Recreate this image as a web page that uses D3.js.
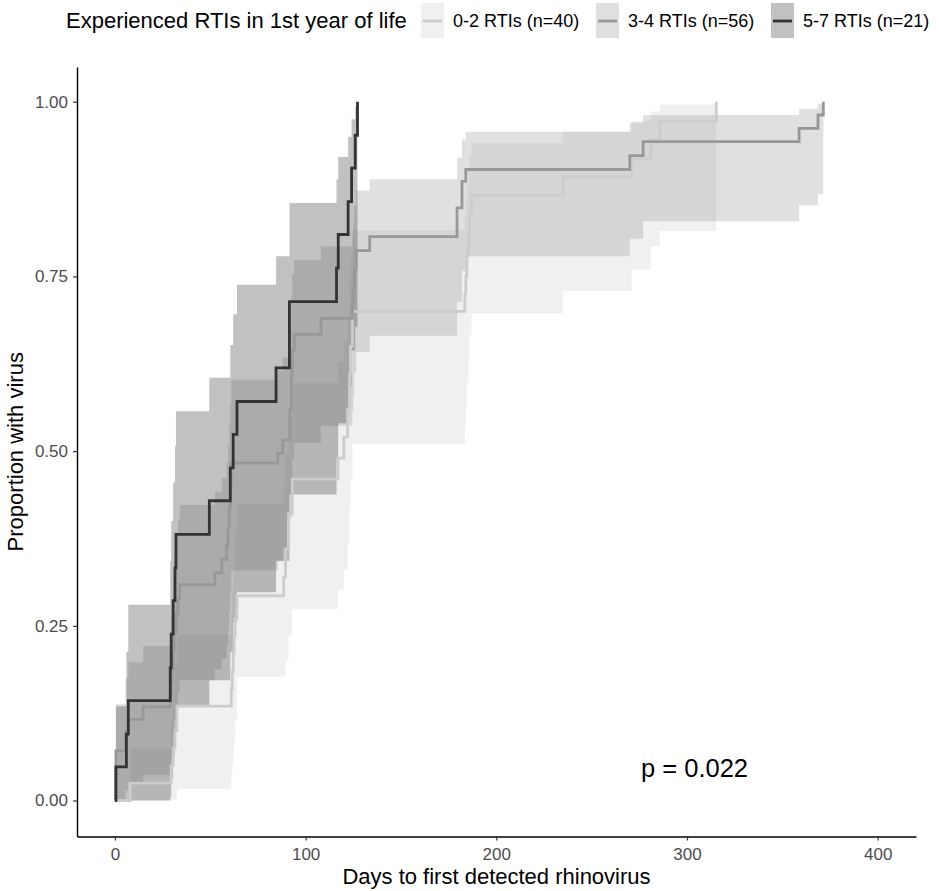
<!DOCTYPE html>
<html><head><meta charset="utf-8">
<script src="https://cdn.jsdelivr.net/npm/d3@7"></script>
<style>body{margin:0;background:#fff} svg{display:block} text{font-family:"Liberation Sans",Arial,sans-serif}</style>
</head><body><svg id="c" width="939" height="891"></svg>
<script>
// ---- data ----
const groupNames = ["0-2 RTIs (n=40)", "3-4 RTIs (n=56)", "5-7 RTIs (n=21)"];
const legendTitle = "Experienced RTIs in 1st year of life";
const xTitle = "Days to first detected rhinovirus";
const yTitle = "Proportion with virus";
const pLabel = "p = 0.022";
const xTicks = [0, 100, 200, 300, 400];
const yTicks = [0, 0.25, 0.5, 0.75, 1];
const yTickLabels = ["0.00", "0.25", "0.50", "0.75", "1.00"];

const g1Time  = [0, 8, 29.5, 30.5, 31.5, 32.5, 61, 61.5, 62, 62.5, 63, 64, 88.5, 89.5, 91, 93, 117, 120, 122, 123, 123.5, 124.5, 183.5, 184, 184.5, 185.5, 186, 187, 235, 271, 281, 285.7, 315.4];
const g1Est   = [0, .025, .05, .075, .10, .135, .16, .185, .21, .235, .26, .293, .32, .36, .41, .46, .49, .52, .56, .61, .65, .70, .725, .75, .78, .81, .84, .866, .892, .918, .946, .972, 1];
const g1Lower = [0, 0, 0, 0, 0, .017, .034, .05, .067, .085, .113, .177, .18, .2, .235, .274, .302, .330, .368, .418, .458, .510, .537, .564, .598, .632, .666, .697, .729, .760, .793, .815, .815];
const g1Upper = [0, .074, .117, .156, .191, .238, .27, .3, .33, .36, .388, .425, .454, .497, .548, .598, .628, .656, .694, .739, .774, .816, .837, .857, .880, .902, .923, .941, .957, .972, .986, .996, .996];

const g2Time  = [0, 0.5, 5.5, 7, 14.8, 29, 29.5, 30, 30.5, 31, 32, 33, 34, 52.4, 56, 58.6, 59.3, 60, 60.5, 61, 85.5, 88, 91.7, 92.5, 93, 94, 108, 124.5, 125, 125.5, 126.5, 133.6, 179.4, 182, 184, 270, 277, 358.8, 368.7, 371.5];
const g2Est   = [0, .071, .098, .116, .134, .152, .17, .188, .214, .241, .268, .289, .309, .326, .345, .366, .39, .42, .45, .483, .497, .516, .56, .61, .645, .667, .69, .71, .73, .76, .787, .807, .848, .886, .903, .923, .943, .962, .981, 1];
const g2Lower = [0, 0, .014, .025, .037, .049, .062, .075, .095, .116, .138, .156, .172, .187, .203, .222, .243, .270, .298, .329, .342, .361, .403, .454, .489, .512, .536, .558, .579, .612, .642, .665, .713, .758, .779, .804, .829, .852, .868, .868];
const g2Upper = [0, .138, .175, .198, .221, .244, .265, .287, .317, .348, .378, .401, .423, .441, .461, .483, .508, .539, .569, .602, .615, .634, .675, .722, .753, .773, .793, .810, .827, .851, .873, .889, .920, .946, .957, .970, .981, .990, .997, .997];

const g3Time  = [0, 0.5, 6, 7, 29, 29.5, 30.5, 31.5, 32, 49.5, 60.5, 62, 64, 84.5, 91.5, 116.2, 117.1, 122.3, 124.1, 126, 127.2];
const g3Est   = [0, .048, .095, .143, .190, .238, .286, .333, .381, .429, .476, .524, .571, .619, .714, .762, .810, .857, .905, .952, 1];
const g3Lower = [0, 0, 0, 0, .004, .032, .064, .098, .134, .172, .213, .254, .298, .343, .438, .488, .540, .593, .644, .678, .678];
const g3Upper = [0, .135, .213, .280, .342, .400, .455, .507, .557, .605, .652, .696, .738, .779, .855, .889, .921, .950, .975, .993, .993];

const lineColors = ["#cccccc", "#989898", "#333333"];
const fillColors = ["#cccccc", "#989898", "#333333"];

(function () {
const groups = [
  {name: groupNames[0], t: g1Time, e: g1Est, lo: g1Lower, up: g1Upper},
  {name: groupNames[1], t: g2Time, e: g2Est, lo: g2Lower, up: g2Upper},
  {name: groupNames[2], t: g3Time, e: g3Est, lo: g3Lower, up: g3Upper}
].map((g, i) => ({...g, pts: g.t.map((t, j) => ({t, e: g.e[j], lo: g.lo[j], up: g.up[j]})), i}));

const svg = d3.select("#c");
const pL = 77, pR = 916, pT = 67, pB = 836.5;
const x = d3.scaleLinear().domain([-19.9, 420.1]).range([pL, pR]);
const y = d3.scaleLinear().domain([-0.0515, 1.0497]).range([pB, pT]);

const plot = svg.append("g");
const area = d3.area().curve(d3.curveStepAfter).x(d => x(d.t)).y0(d => y(d.lo)).y1(d => y(d.up));
const line = d3.line().curve(d3.curveStepAfter).x(d => x(d.t)).y(d => y(d.e));

plot.selectAll("path.band").data(groups).join("path").attr("class", "band")
  .attr("d", g => area(g.pts)).attr("fill", g => fillColors[g.i]).attr("fill-opacity", 0.3);
plot.selectAll("path.curve").data(groups).join("path").attr("class", "curve")
  .attr("d", g => line(g.pts)).attr("fill", "none").attr("stroke", g => lineColors[g.i])
  .attr("stroke-width", 2.8).attr("stroke-linejoin", "miter");

const xAxis = d3.axisBottom(x).tickValues(xTicks).tickSize(4).tickPadding(7).tickSizeOuter(0);
const yAxis = d3.axisLeft(y).tickValues(yTicks).tickFormat((d, i) => yTickLabels[i]).tickSize(4).tickPadding(5).tickSizeOuter(0);
const gx = svg.append("g").attr("transform", `translate(0,${pB})`).call(xAxis);
const gy = svg.append("g").attr("transform", `translate(${pL},0)`).call(yAxis);
[gx, gy].forEach(g => {
  g.select(".domain").attr("stroke", "#000").attr("stroke-width", 1.4);
  g.selectAll(".tick line").attr("stroke", "#333").attr("stroke-width", 1.2);
  g.selectAll(".tick text").attr("fill", "#4d4d4d").style("font-size", "17px").style("font-family", "'Liberation Sans',Arial,sans-serif");
});

svg.append("text").attr("x", (pL + pR) / 2).attr("y", 884).attr("text-anchor", "middle")
  .style("font-size", "22px").attr("fill", "#000").text(xTitle);
svg.append("text").attr("transform", `translate(23,${(pT + pB) / 2}) rotate(-90)`).attr("text-anchor", "middle")
  .style("font-size", "22px").attr("fill", "#000").text(yTitle);

svg.append("text").attr("x", 641).attr("y", 777).style("font-size", "25.5px").attr("fill", "#000").text(pLabel);

const lg = svg.append("g");
lg.append("text").attr("x", 66).attr("y", 28).style("font-size", "22px").attr("fill", "#000").text(legendTitle);
const keyX = [421, 596, 771], labX = [453, 628, 803];
groups.forEach((g, i) => {
  lg.append("rect").attr("x", keyX[i]).attr("y", 3).attr("width", 23).attr("height", 35)
    .attr("fill", fillColors[i]).attr("fill-opacity", 0.3);
  lg.append("line").attr("x1", keyX[i] + 2).attr("x2", keyX[i] + 21).attr("y1", 21).attr("y2", 21)
    .attr("stroke", lineColors[i]).attr("stroke-width", 2.8);
  lg.append("text").attr("x", labX[i]).attr("y", 27).style("font-size", "18px").attr("fill", "#000").text(g.name);
});
})();
</script></body></html>
